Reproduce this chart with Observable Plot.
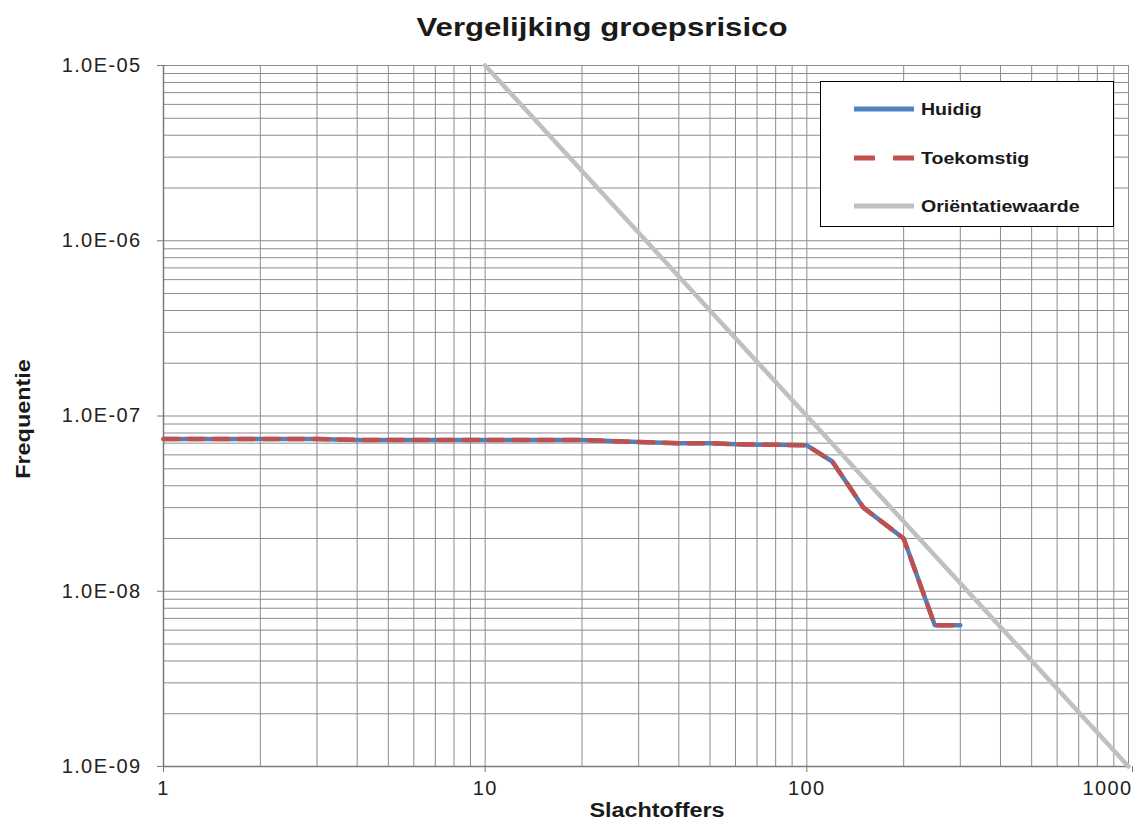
<!DOCTYPE html>
<html><head><meta charset="utf-8">
<script src="https://cdn.jsdelivr.net/npm/d3@7"></script>
<script src="https://cdn.jsdelivr.net/npm/@observablehq/plot@0.6"></script>
<style>
body{margin:0;background:#fff;font-family:"Liberation Sans",Arial,sans-serif;}
#wrap{position:relative;width:1134px;height:823px;overflow:hidden;}
.lbl{position:absolute;white-space:nowrap;font-weight:bold;color:#1a1a1a;line-height:1;}
#legend{position:absolute;left:820px;top:81px;width:292px;height:144px;border:1.5px solid #000;background:#fff;}
.item{position:absolute;left:0;height:20px;}
.item svg{position:absolute;left:32px;top:0;}
.item span{position:absolute;left:100px;top:1px;font-size:17px;font-weight:bold;color:#1a1a1a;white-space:nowrap;transform:scaleX(1.15);transform-origin:left center;}
</style></head>
<body><div id="wrap"></div>
<script>
// Data
const slachtoffers = [1, 2, 3, 4, 10, 20, 30, 40, 50, 60, 80, 100, 120, 150, 200, 250, 300];
const huidig      = [7.4e-8, 7.4e-8, 7.4e-8, 7.3e-8, 7.3e-8, 7.3e-8, 7.1e-8, 7.0e-8, 7.0e-8, 6.9e-8, 6.85e-8, 6.8e-8, 5.5e-8, 3.0e-8, 2.0e-8, 6.4e-9, 6.4e-9];
const toekomstig  = [7.4e-8, 7.4e-8, 7.4e-8, 7.3e-8, 7.3e-8, 7.3e-8, 7.1e-8, 7.0e-8, 7.0e-8, 6.9e-8, 6.85e-8, 6.8e-8, 5.5e-8, 3.0e-8, 2.0e-8, 6.4e-9, 6.4e-9];
const orientatieX = [10, 1000];
const orientatieY = [1e-5, 1e-9];
const xTicks = [1, 10, 100];
const xTickLast = [1000];
const yTicks = [1e-9, 1e-8, 1e-7, 1e-6, 1e-5];
const seriesNames = ["Huidig", "Toekomstig", "Oriëntatiewaarde"];
const seriesColors = ["#4f81bd", "#c0504d", "#c0c0c0"];

const rowsH = slachtoffers.map((x, i) => ({x, y: huidig[i]}));
const rowsT = slachtoffers.map((x, i) => ({x, y: toekomstig[i]}));
const rowsO = orientatieX.map((x, i) => ({x, y: orientatieY[i]}));

// minor grid positions (1..9 x each decade)
const xGrid = [], yGrid = [];
for (let e = 0; e < 3; e++) for (let m = 1; m <= 9; m++) xGrid.push(m * 10 ** e);
xGrid.push(1000);
for (let e = -9; e < -5; e++) for (let m = 1; m <= 9; m++) yGrid.push(+(m * 10 ** e).toPrecision(3));
yGrid.push(1e-5);

const fmtY = d => "1.0E-" + String(-Math.round(Math.log10(d))).padStart(2, "0");
const axisStyle = {stroke: "#7a7a7a", fill: "#222", fontSize: 20, label: null};

const chart = Plot.plot({
  width: 1134, height: 823,
  marginLeft: 163, marginRight: 6, marginTop: 65, marginBottom: 57,
  style: {fontFamily: "'Liberation Sans', Arial, sans-serif", fontSize: "20px", color: "#222", background: "#fff", letterSpacing: "1.4px"},
  x: {type: "log", domain: [1, 1000]},
  y: {type: "log", domain: [1e-9, 1e-5]},
  marks: [
    Plot.gridX(xGrid, {stroke: "#8c8c8c", strokeOpacity: 1, strokeWidth: 1}),
    Plot.gridY(yGrid, {stroke: "#8c8c8c", strokeOpacity: 1, strokeWidth: 1}),
    Plot.ruleX([1], {stroke: "#7a7a7a", strokeWidth: 1.5}),
    Plot.ruleY([1e-9], {stroke: "#7a7a7a", strokeWidth: 1.5}),
    Plot.axisX(xTicks, {...axisStyle, tickFormat: d => String(d), tickSize: 6, tickPadding: 8}),
    Plot.axisX(xTickLast, {...axisStyle, tickFormat: d => String(d), tickSize: 6, tickPadding: 8, textAnchor: "end", dx: 4}),
    Plot.axisY(yTicks, {...axisStyle, tickFormat: fmtY, tickSize: 6, tickPadding: 16}),
    Plot.line(rowsO, {x: "x", y: "y", stroke: seriesColors[2], strokeWidth: 4.5}),
    Plot.line(rowsH, {x: "x", y: "y", stroke: seriesColors[0], strokeWidth: 4.5}),
    Plot.line(rowsT, {x: "x", y: "y", stroke: seriesColors[1], strokeWidth: 4.5, strokeDasharray: "15,10"})
  ]
});

const wrap = document.getElementById("wrap");
wrap.appendChild(chart);

function addLabel(text, css) {
  const d = document.createElement("div");
  d.className = "lbl";
  d.textContent = text;
  Object.assign(d.style, css);
  wrap.appendChild(d);
}
addLabel("Vergelijking groepsrisico", {left: "602px", top: "27px", fontSize: "26px", transform: "translate(-50%,-50%) scaleX(1.2)"});
addLabel("Slachtoffers", {left: "657px", top: "810px", fontSize: "20px", transform: "translate(-50%,-50%) scaleX(1.17)"});
addLabel("Frequentie", {left: "23px", top: "419px", fontSize: "20px", transform: "translate(-50%,-50%) rotate(-90deg) scaleX(1.17)"});

// Legend
const legend = document.createElement("div");
legend.id = "legend";
const itemTops = [17, 66, 114];
seriesNames.forEach((name, i) => {
  const it = document.createElement("div");
  it.className = "item";
  it.style.top = itemTops[i] + "px";
  const dash = i === 1 ? 'stroke-dasharray="21,18"' : "";
  it.innerHTML = `<svg width="62" height="20"><line x1="1" y1="10" x2="61" y2="10" stroke="${seriesColors[i]}" stroke-width="5" ${dash}/></svg><span>${name}</span>`;
  legend.appendChild(it);
});
wrap.appendChild(legend);
</script>
</body></html>
